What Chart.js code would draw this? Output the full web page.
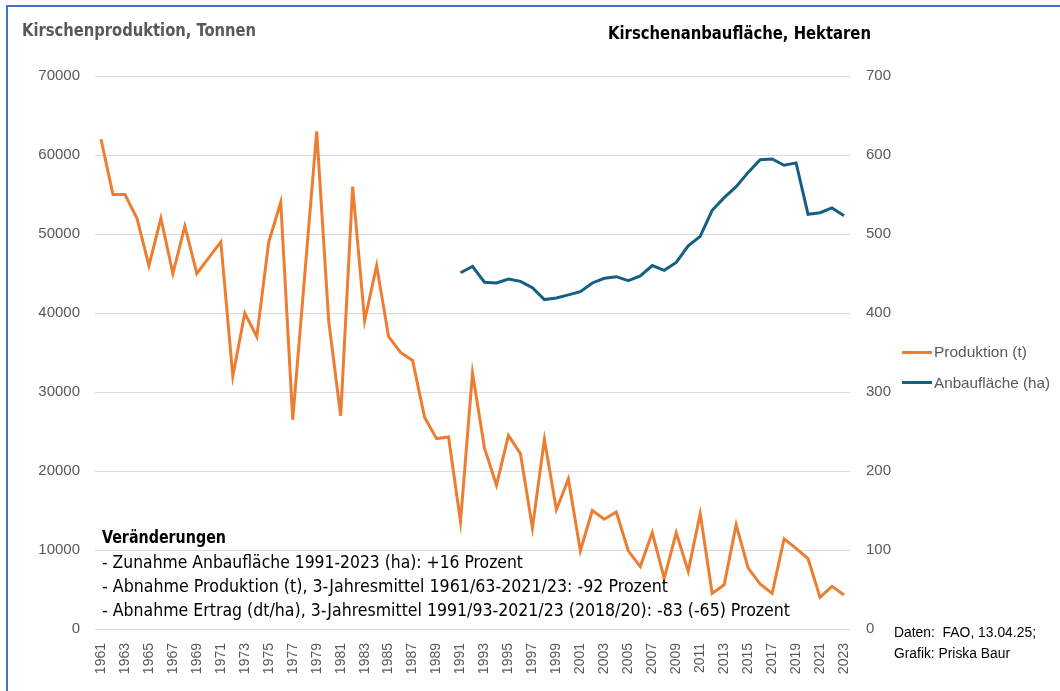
<!DOCTYPE html>
<html>
<head>
<meta charset="utf-8">
<script src="https://cdn.jsdelivr.net/npm/chart.js@4"></script>
<style>
  html, body { margin: 0; padding: 0; background: #fff; }
  #wrap { position: relative; width: 1060px; height: 691px; overflow: hidden; }
  #frame { position: absolute; left: 6px; top: 5px; right: -10px; bottom: -10px; border-top: 2px solid #4472C4; border-left: 2px solid #4472C4; }
  canvas { position: absolute; left: 0; top: 0; }
  .t { position: absolute; white-space: nowrap; line-height: 1; transform-origin: left center; }
  .narrow { font-family: 'Liberation Sans Narrow', 'DejaVu Sans Condensed', 'Roboto Condensed', 'Liberation Sans', Arial, sans-serif; }
  .plain { font-family: 'Liberation Sans', Arial, sans-serif; }
  .key { position: absolute; height: 3px; width: 30px; }
</style>
</head>
<body>
<div id="wrap">
  <div id="frame"></div>
  <canvas id="chart" width="1060" height="691"></canvas>

  <div class="t narrow" data-x="22" data-y="30" data-w="234" style="font-size:18px;font-weight:bold;color:#595959">Kirschenproduktion, Tonnen</div>
  <div class="t narrow" data-x="608" data-y="33" data-w="263" style="font-size:18px;font-weight:bold;color:#000">Kirschenanbaufläche, Hektaren</div>

  <div class="t narrow" data-x="102" data-y="537" data-w="124" style="font-size:18px;font-weight:bold;color:#000">Veränderungen</div>
  <div class="t narrow" data-x="102" data-y="562" data-w="421" style="font-size:18px;color:#000">- Zunahme Anbaufläche 1991-2023 (ha): +16 Prozent</div>
  <div class="t narrow" data-x="102" data-y="586" data-w="566" style="font-size:18px;color:#000">- Abnahme Produktion (t), 3-Jahresmittel 1961/63-2021/23: -92 Prozent</div>
  <div class="t narrow" data-x="102" data-y="610" data-w="688" style="font-size:18px;color:#000">- Abnahme Ertrag (dt/ha), 3-Jahresmittel 1991/93-2021/23 (2018/20): -83 (-65) Prozent</div>

  <div class="key" style="left:902px;top:351px;background:#ED7D31"></div>
  <div class="t plain" data-x="934" data-y="352" data-w="93" style="font-size:14.5px;color:#595959">Produktion (t)</div>
  <div class="key" style="left:902px;top:381px;background:#156082"></div>
  <div class="t plain" data-x="934" data-y="383" data-w="116" style="font-size:14.5px;color:#595959">Anbaufläche (ha)</div>

  <div class="t plain" data-x="894" data-y="632" data-w="142" style="font-size:14px;color:#000">Daten:&nbsp; FAO, 13.04.25;</div>
  <div class="t plain" data-x="894" data-y="653" data-w="116" style="font-size:14px;color:#000">Grafik: Priska Baur</div>
</div>

<script>
// years shown on the x axis
const years = [1961, 1962, 1963, 1964, 1965, 1966, 1967, 1968, 1969, 1970,
  1971, 1972, 1973, 1974, 1975, 1976, 1977, 1978, 1979, 1980,
  1981, 1982, 1983, 1984, 1985, 1986, 1987, 1988, 1989, 1990,
  1991, 1992, 1993, 1994, 1995, 1996, 1997, 1998, 1999, 2000,
  2001, 2002, 2003, 2004, 2005, 2006, 2007, 2008, 2009, 2010,
  2011, 2012, 2013, 2014, 2015, 2016, 2017, 2018, 2019, 2020,
  2021, 2022, 2023];

// Produktion in Tonnen, 1961-2023
const produktion = [62000, 55000, 55000, 52000, 46000, 52000, 45000, 51000, 45000, 47000,
  49000, 32000, 40000, 37000, 49000, 54000, 26500, 44800, 63000, 39000,
  27000, 56000, 39000, 46000, 37000, 35000, 34000, 26800, 24100, 24300,
  13600, 32400, 22900, 18200, 24500, 22200, 12800, 24000, 15100, 19000,
  9900, 15000, 13900, 14800, 9900, 7900, 12200, 6400, 12200, 7300,
  14600, 4500, 5600, 13200, 7700, 5700, 4500, 11400, 10200, 8900,
  4000, 5400, 4300];

// Anbaufläche in Hektaren, 1991-2023
const anbauStart = 1991;
const anbau = [451, 459, 439, 438, 443, 440, 432, 417, 419, 423,
  427, 438, 444, 446, 441, 447, 460, 454, 464, 485,
  497, 530, 546, 560, 578, 594, 595, 587, 590, 525,
  527, 533, 523];

const leftTicks = [0, 10000, 20000, 30000, 40000, 50000, 60000, 70000];
const rightTicks = [0, 100, 200, 300, 400, 500, 600, 700];

const anbauSeries = years.map(y => y >= anbauStart ? anbau[y - anbauStart] : null);

const tickFont = { family: "'Liberation Sans', Arial, sans-serif", size: 15 };

new Chart(document.getElementById("chart"), {
  type: "line",
  data: {
    labels: years.map(String),
    datasets: [
      {
        label: "Produktion (t)",
        data: produktion,
        borderColor: "#ED7D31",
        borderWidth: 3,
        pointRadius: 0,
        tension: 0,
        yAxisID: "y"
      },
      {
        label: "Anbaufläche (ha)",
        data: anbauSeries,
        borderColor: "#156082",
        borderWidth: 3,
        pointRadius: 0,
        tension: 0,
        spanGaps: false,
        yAxisID: "y2"
      }
    ]
  },
  options: {
    responsive: false,
    animation: false,
    layout: { padding: { left: 0, right: 150, top: 76, bottom: 10 } },
    plugins: { legend: { display: false }, tooltip: { enabled: false } },
    scales: {
      x: {
        offset: true,
        grid: { display: false },
        border: { display: false },
        ticks: {
          autoSkip: false,
          minRotation: 90,
          maxRotation: 90,
          padding: 6,
          color: "#595959",
          font: { family: tickFont.family, size: 14 },
          callback: (v, i) => i % 2 === 0 ? years[i] : ""
        },
        afterFit: s => { s.height = 52; }
      },
      y: {
        position: "left",
        min: 0,
        max: 70000,
        afterBuildTicks: s => { s.ticks = leftTicks.map(v => ({ value: v })); },
        grid: { color: "#d9d9d9", lineWidth: 1, drawTicks: false },
        border: { display: false },
        ticks: { padding: 15, color: "#595959", font: tickFont, callback: v => String(v) },
        afterFit: s => { s.width = 95; }
      },
      y2: {
        position: "right",
        min: 0,
        max: 700,
        afterBuildTicks: s => { s.ticks = rightTicks.map(v => ({ value: v })); },
        grid: { display: false, drawTicks: false },
        border: { display: false },
        ticks: { padding: 16, color: "#595959", font: tickFont, callback: v => String(v) },
        afterFit: s => { s.width = 60; }
      }
    }
  }
});

// place the text blocks and stretch them to the measured widths
function placeTexts() {
  document.querySelectorAll(".t").forEach(el => {
    el.style.transform = "none";
    el.style.left = el.dataset.x + "px";
    const r = el.getBoundingClientRect();
    el.style.top = (el.dataset.y - r.height / 2) + "px";
    el.style.transform = "scaleX(" + (el.dataset.w / r.width) + ")";
  });
}
placeTexts();
if (document.fonts) document.fonts.ready.then(placeTexts);
</script>
</body>
</html>
